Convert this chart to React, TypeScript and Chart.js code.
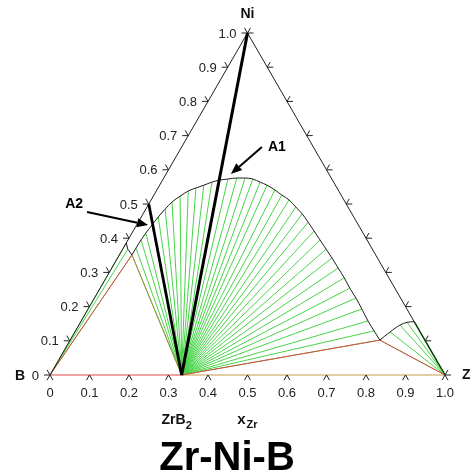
import { useEffect, useRef } from "react";
import { Chart, registerables } from "chart.js";

Chart.register(...registerables);

// Ternary Zr-Ni-B isothermal section. Compositions are [xZr, xNi]; xB = 1 - xZr - xNi.
const H = Math.sqrt(3) / 2;

const tickValues = [0, 0.1, 0.2, 0.3, 0.4, 0.5, 0.6, 0.7, 0.8, 0.9, 1.0];
const tickLabels = ["0", "0.1", "0.2", "0.3", "0.4", "0.5", "0.6", "0.7", "0.8", "0.9", "1.0"];

// Phase points
const compB = [0, 0];
const compZr = [1, 0];
const compNi = [0, 1];
const compZrB2 = [1 / 3, 0];
const compNiB = [0, 0.5];
const liquidL1 = [0.032, 0.351];
const liquidL2 = [0.784, 0.102];

// Liquidus in equilibrium with ZrB2 (tie lines run from ZrB2 to each point)
const liqZrB2_xZr = [0.032, 0.032, 0.033, 0.035, 0.039, 0.043, 0.049, 0.056, 0.068, 0.081, 0.096, 0.112, 0.128, 0.145, 0.164, 0.185, 0.206, 0.227, 0.25, 0.272, 0.299, 0.324, 0.349, 0.377, 0.403, 0.43, 0.458, 0.486, 0.515, 0.543, 0.573, 0.603, 0.632, 0.662, 0.693, 0.726, 0.756, 0.784];
const liqZrB2_xNi = [0.351, 0.371, 0.395, 0.415, 0.439, 0.462, 0.485, 0.506, 0.523, 0.538, 0.547, 0.555, 0.564, 0.57, 0.573, 0.576, 0.576, 0.573, 0.564, 0.555, 0.541, 0.526, 0.512, 0.491, 0.471, 0.447, 0.421, 0.395, 0.368, 0.342, 0.313, 0.284, 0.254, 0.225, 0.193, 0.158, 0.129, 0.102];

// Liquidus in equilibrium with B
const liqB_xZr = [0.032, 0.013, 0.0];
const liqB_xNi = [0.351, 0.368, 0.386];

// Liquidus in equilibrium with Zr
const liqZr_xZr = [0.784, 0.798, 0.813, 0.827, 0.844];
const liqZr_xNi = [0.102, 0.126, 0.146, 0.154, 0.156];

const toXY = (c: number[]) => ({ x: c[0] + c[1] / 2, y: c[1] * H });
const zip = (a: number[], b: number[]) => a.map((v, i) => [v, b[i]]);

const GREEN = "#48d448";
const RED = "#e04848";
const OLIVE = "#a98a3e";
const BLACK = "#1e1e1e";
const FONT = '"Liberation Sans", Arial, Helvetica, sans-serif';

function seg(points: number[][], color: string, width: number, order: number, smooth = false) {
  return {
    type: "scatter" as const,
    data: points.map(toXY),
    showLine: true,
    borderColor: color,
    borderWidth: width,
    pointRadius: 0,
    fill: false,
    clip: false as const,
    cubicInterpolationMode: smooth ? ("monotone" as const) : ("default" as const),
    order,
  };
}

function buildDatasets() {
  const ds: any[] = [];
  const liqZrB2 = zip(liqZrB2_xZr, liqZrB2_xNi);
  const liqB = zip(liqB_xZr, liqB_xNi);
  const liqZr = zip(liqZr_xZr, liqZr_xNi);

  // tie lines
  liqZrB2.forEach((p) => ds.push(seg([compZrB2, p], GREEN, 1, 5)));
  liqB.forEach((p) => ds.push(seg([compB, p], GREEN, 1, 5)));
  liqZr.forEach((p, i) =>
    ds.push(seg([compZr, p], i === liqZr.length - 1 ? "#1f8f1f" : GREEN, i === liqZr.length - 1 ? 1.6 : 1, 5))
  );

  // three-phase triangles
  ds.push(seg([compB, liquidL1], RED, 1, 4));
  ds.push(seg([liquidL1, compZrB2], OLIVE, 1, 4));
  ds.push(seg([compZrB2, liquidL2, compZr], RED, 1, 4));
  ds.push(seg([compB, compZrB2], RED, 1.2, 4));
  ds.push(seg([compZrB2, compZr], "#c89a48", 1.2, 4));

  // liquidus curves
  ds.push(seg(liqZrB2, BLACK, 1, 3, true));
  ds.push(seg(liqB, BLACK, 1, 3));
  ds.push(seg(liqZr, BLACK, 1, 3, true));

  // composition triangle (bottom edge lies under the phase lines)
  ds.push(seg([compZr, compNi, compB], BLACK, 1, 2));

  // sections A1 and A2
  ds.push(seg([compZrB2, compNi], "#000", 3, 1));
  ds.push(seg([compZrB2, compNiB], "#000", 2.8, 1));
  return ds;
}

// Annotation arrows: tip composition plus tail offset in px
const arrows = [
  { label: "A1", tip: [0.164, 0.588], dx: 31, dy: -27, lx: 6, ly: 0, align: "left" as CanvasTextAlign },
  { label: "A2", tip: [0.029, 0.4385], dx: -61, dy: -13, lx: -4, ly: -8, align: "right" as CanvasTextAlign },
];

const overlay = {
  id: "ternaryOverlay",
  afterDraw(chart: any) {
    const { ctx } = chart;
    const sx = chart.scales.x;
    const sy = chart.scales.y;
    const P = (zr: number, ni: number) => ({
      x: sx.getPixelForValue(zr + ni / 2),
      y: sy.getPixelForValue(ni * H),
    });
    ctx.save();
    ctx.strokeStyle = "#222";
    ctx.lineWidth = 1;
    const L = 6;
    const arm = (p: { x: number; y: number }, ux: number, uy: number) => {
      ctx.beginPath();
      ctx.moveTo(p.x, p.y);
      ctx.lineTo(p.x + ux * L, p.y + uy * L);
      ctx.stroke();
    };
    ctx.fillStyle = "#222";
    ctx.font = `13px ${FONT}`;
    tickValues.forEach((t, i) => {
      // bottom axis (xZr)
      const b = P(t, 0);
      arm(b, -0.5, H);
      arm(b, 0.5, H);
      ctx.textAlign = "center";
      ctx.textBaseline = "middle";
      ctx.fillText(tickLabels[i], b.x, b.y + 18);
      // left axis (xNi)
      const l = P(0, t);
      arm(l, -1, 0);
      arm(l, -0.5, -H);
      ctx.textAlign = "right";
      ctx.fillText(tickLabels[i], l.x - 11, l.y + 1);
      // right edge
      const r = P(1 - t, t);
      arm(r, 1, 0);
      arm(r, 0.5, -H);
    });

    // vertex / phase labels
    ctx.fillStyle = "#111";
    ctx.font = `bold 14px ${FONT}`;
    const ni = P(0, 1);
    ctx.textAlign = "center";
    ctx.textBaseline = "middle";
    ctx.fillText("Ni", ni.x, ni.y - 19);
    const b0 = P(0, 0);
    ctx.fillText("B", b0.x - 30, b0.y + 1);
    const zr = P(1, 0);
    ctx.textAlign = "left";
    ctx.fillText("Zr", zr.x + 17, zr.y);

    // ZrB2 label under its composition
    const zb = P(1 / 3, 0);
    ctx.font = `bold 14px ${FONT}`;
    ctx.textAlign = "right";
    ctx.textBaseline = "alphabetic";
    ctx.fillText("ZrB", zb.x + 4, zb.y + 49);
    ctx.font = `bold 11px ${FONT}`;
    ctx.textAlign = "left";
    ctx.fillText("2", zb.x + 4, zb.y + 54);

    // axis title x_Zr
    const ax = P(0.5, 0);
    ctx.font = `bold 15px ${FONT}`;
    ctx.textAlign = "right";
    ctx.fillText("x", ax.x - 2, ax.y + 49);
    ctx.font = `bold 11px ${FONT}`;
    ctx.textAlign = "left";
    ctx.fillText("Zr", ax.x - 1, ax.y + 53);

    // arrows
    ctx.strokeStyle = "#000";
    ctx.fillStyle = "#000";
    arrows.forEach((a) => {
      const tip = P(a.tip[0], a.tip[1]);
      const tail = { x: tip.x + a.dx, y: tip.y + a.dy };
      const ang = Math.atan2(tip.y - tail.y, tip.x - tail.x);
      const hl = 11;
      const hw = 4.5;
      const base = { x: tip.x - Math.cos(ang) * hl, y: tip.y - Math.sin(ang) * hl };
      ctx.lineWidth = 2;
      ctx.beginPath();
      ctx.moveTo(tail.x, tail.y);
      ctx.lineTo(base.x, base.y);
      ctx.stroke();
      ctx.beginPath();
      ctx.moveTo(tip.x, tip.y);
      ctx.lineTo(base.x - Math.sin(ang) * hw, base.y + Math.cos(ang) * hw);
      ctx.lineTo(base.x + Math.sin(ang) * hw, base.y - Math.cos(ang) * hw);
      ctx.closePath();
      ctx.fill();
      ctx.font = `bold 14px ${FONT}`;
      ctx.textAlign = a.align;
      ctx.textBaseline = "middle";
      ctx.fillText(a.label, tail.x + a.lx, tail.y + a.ly);
    });

    // system title
    ctx.font = `bold 40px ${FONT}`;
    ctx.textAlign = "center";
    ctx.textBaseline = "alphabetic";
    ctx.fillStyle = "#000";
    ctx.fillText("Zr-Ni-B", 227, 470);
    ctx.restore();
  },
};

export default function App() {
  const ref = useRef<HTMLCanvasElement>(null);
  useEffect(() => {
    if (!ref.current) return;
    const chart = new Chart(ref.current, {
      type: "scatter",
      data: { datasets: buildDatasets() },
      options: {
        responsive: false,
        animation: false,
        events: [],
        layout: { padding: { left: 50, right: 25, top: 33, bottom: 101 } },
        plugins: { legend: { display: false }, tooltip: { enabled: false } },
        scales: {
          x: { type: "linear", min: 0, max: 1, display: false },
          y: { type: "linear", min: 0, max: H, display: false },
        },
      },
      plugins: [overlay],
    });
    return () => chart.destroy();
  }, []);
  return (
    <div style={{ position: "fixed", left: 0, top: 0, width: 470, height: 476, background: "#fff" }}>
      <canvas ref={ref} width={470} height={476} />
    </div>
  );
}
